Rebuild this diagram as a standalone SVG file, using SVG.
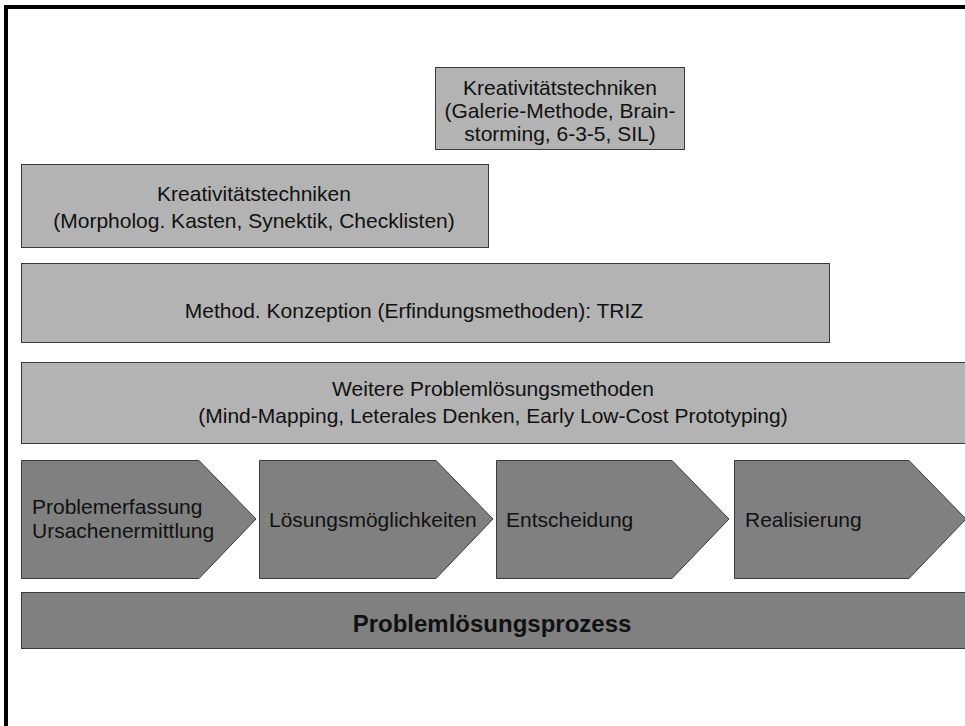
<svg xmlns="http://www.w3.org/2000/svg" width="965" height="726" viewBox="0 0 965 726">
  <style>
    .light { fill: #b3b3b3; stroke: #3a3a3a; stroke-width: 1; }
    .dark { fill: #808080; stroke: #3a3a3a; stroke-width: 1; }
    .lbl { font-family: "Liberation Sans", Arial, sans-serif; font-size: 21px; fill: #111; }
    .mid { text-anchor: middle; }
    .bold { font-family: "Liberation Sans", Arial, sans-serif; font-size: 24px; font-weight: bold; fill: #111; text-anchor: middle; }
    .frame { fill: none; stroke: #000; stroke-width: 4; }
  </style>
  <rect width="965" height="726" fill="#fff"/>

  <!-- outer frame: only the top and left edges fall inside the view -->
  <path class="frame" d="M6 726 V7 H966"/>

  <g id="kreativ-galerie">
    <rect class="light" x="435.5" y="67.5" width="249" height="82"/>
    <text class="lbl mid" x="560" y="94.5">Kreativitätstechniken</text>
    <text class="lbl mid" x="560" y="117.5">(Galerie-Methode, Brain-</text>
    <text class="lbl mid" x="560" y="140.5">storming, 6-3-5, SIL)</text>
  </g>

  <g id="kreativ-morpholog">
    <rect class="light" x="21.5" y="164.5" width="467" height="83"/>
    <text class="lbl mid" x="254" y="200.5">Kreativitätstechniken</text>
    <text class="lbl mid" x="254" y="227.5">(Morpholog. Kasten, Synektik, Checklisten)</text>
  </g>

  <g id="triz">
    <rect class="light" x="21.5" y="263.5" width="808" height="79"/>
    <text class="lbl mid" x="414" y="317.5">Method. Konzeption (Erfindungsmethoden): TRIZ</text>
  </g>

  <g id="weitere">
    <rect class="light" x="21.5" y="362.5" width="960" height="81"/>
    <text class="lbl mid" x="493" y="395.5">Weitere Problemlösungsmethoden</text>
    <text class="lbl mid" x="493" y="422.5">(Mind-Mapping, Leterales Denken, Early Low-Cost Prototyping)</text>
  </g>

  <!-- process steps -->
  <g id="step-erfassung">
    <polygon class="dark" points="21.5,460.5 199,460.5 256,519 199,578.5 21.5,578.5"/>
    <text class="lbl" x="32" y="514">Problemerfassung</text>
    <text class="lbl" x="32" y="538">Ursachenermittlung</text>
  </g>
  <g id="step-loesungen">
    <polygon class="dark" points="259.5,460.5 436,460.5 493,519 436,578.5 259.5,578.5"/>
    <text class="lbl" x="269" y="526.5">Lösungsmöglichkeiten</text>
  </g>
  <g id="step-entscheidung">
    <polygon class="dark" points="496.5,460.5 672,460.5 729,519 672,578.5 496.5,578.5"/>
    <text class="lbl" x="506" y="526.5">Entscheidung</text>
  </g>
  <g id="step-realisierung">
    <polygon class="dark" points="734.5,460.5 909,460.5 966,519 909,578.5 734.5,578.5"/>
    <text class="lbl" x="745" y="526.5">Realisierung</text>
  </g>

  <g id="prozess">
    <rect class="dark" x="21.5" y="592.5" width="960" height="56"/>
    <text class="bold" x="492" y="631.5">Problemlösungsprozess</text>
  </g>

  <g id="connectors"/>
</svg>
